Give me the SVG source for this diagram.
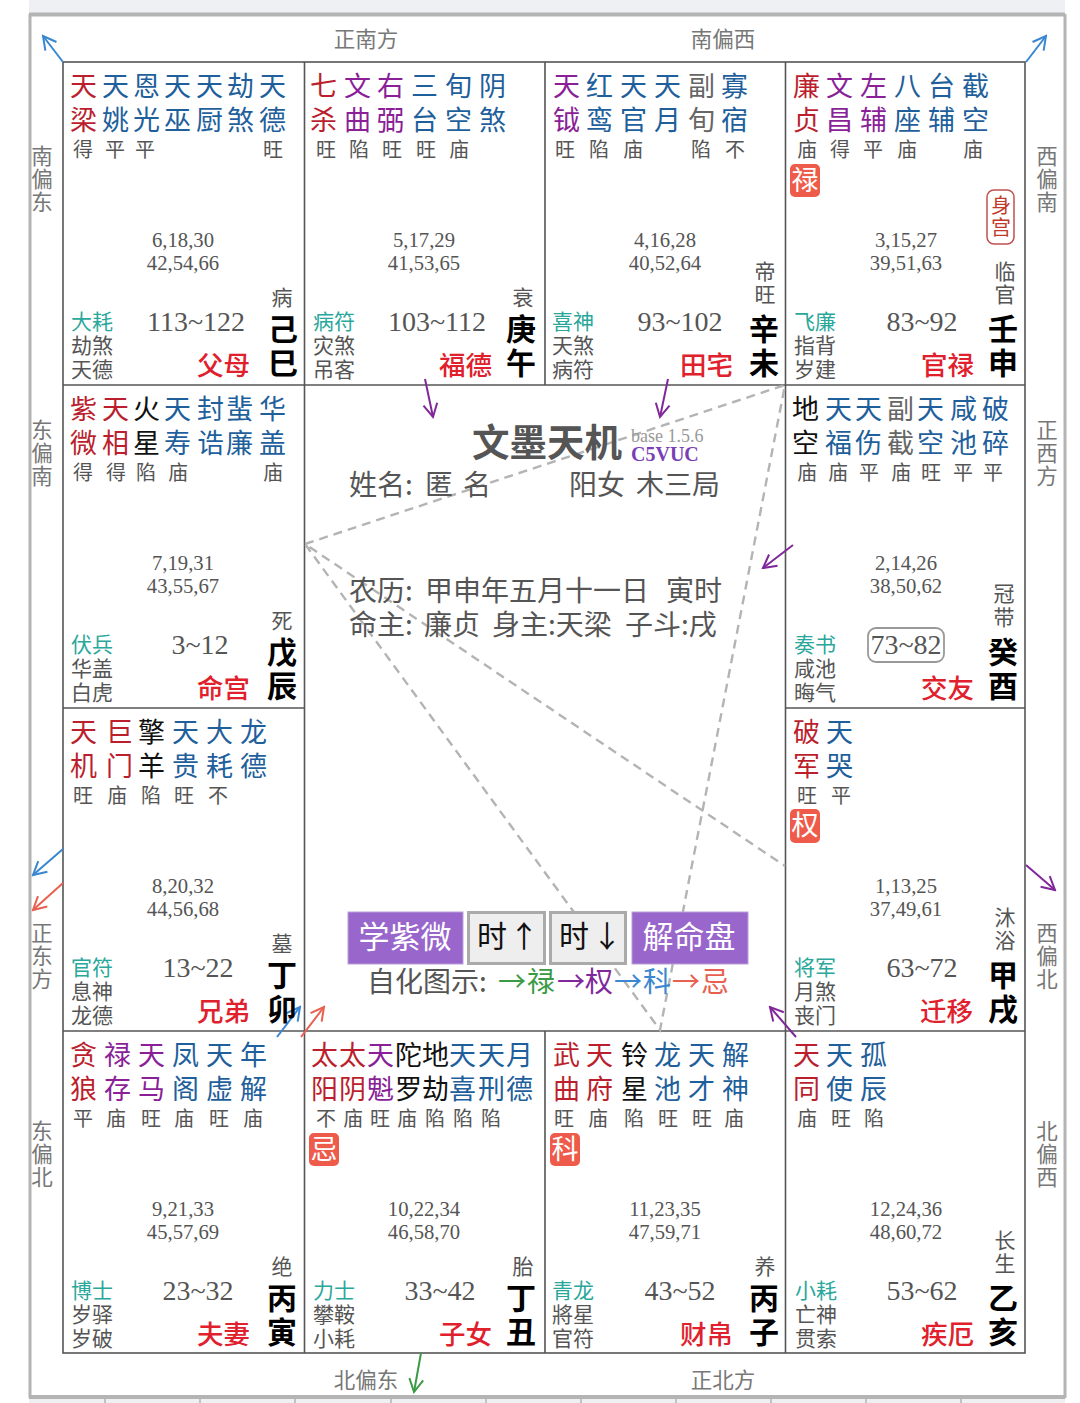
<svg xmlns="http://www.w3.org/2000/svg" width="1080" height="1403" viewBox="0 0 1080 1403">
<style>
text{font-family:"Noto Sans CJK SC","Noto Sans",sans-serif;fill:#555}
.s{font-size:27px}
.br{font-size:20px;fill:#555}
.r{fill:#bb1f2e}.p{fill:#8a1f98}.k{fill:#111}.b{fill:#1f5f9c}.g{fill:#666}
.n{font-family:"Liberation Serif",serif;font-size:20.7px;text-anchor:middle;fill:#555}
.lim{font-family:"Liberation Serif",serif;font-size:28px;text-anchor:middle;fill:#555}
.f{font-size:21px;fill:#555}
.t{fill:#2aa79b}
.pal{font-size:26.5px;fill:#e0202c;font-weight:500}
.gz{font-size:30px;font-weight:700;fill:#000;text-anchor:middle}
.st{font-size:21px;fill:#555;text-anchor:middle}
.dir{font-size:21.5px;fill:#777;text-anchor:middle}
.hua{fill:#ef5b4b}
.huat{font-size:27px;fill:#fff;text-anchor:middle}
.mid{font-size:28px;fill:#555}
.btn{fill:#9966cc;stroke:#b9a0d8;stroke-width:1}
.btnt{font-size:31px;fill:#fff;text-anchor:middle}
.gb{fill:#eee;stroke:#aaa;stroke-width:3}
.gbt{font-size:30px;fill:#111}
.grid{stroke:#555;stroke-width:1.6;fill:none}
.frame{stroke:#b4b4b4;fill:none}
.dash{stroke:#b4b4b4;stroke-width:2.4;stroke-dasharray:9 6;fill:none}
.a{fill:none;stroke-width:2}
</style>
<defs>
<marker id="mb" viewBox="-16 -10 18 20" markerWidth="18" markerHeight="20" refX="0" refY="0" orient="auto" markerUnits="userSpaceOnUse"><path d="M-13,-7 L0,0 L-13,7" fill="none" stroke="#3a86d0" stroke-width="2"/></marker>
<marker id="mp" viewBox="-16 -10 18 20" markerWidth="18" markerHeight="20" refX="0" refY="0" orient="auto" markerUnits="userSpaceOnUse"><path d="M-13,-7 L0,0 L-13,7" fill="none" stroke="#80289a" stroke-width="2"/></marker>
<marker id="mr" viewBox="-16 -10 18 20" markerWidth="18" markerHeight="20" refX="0" refY="0" orient="auto" markerUnits="userSpaceOnUse"><path d="M-13,-7 L0,0 L-13,7" fill="none" stroke="#e8604f" stroke-width="2"/></marker>
<marker id="mg" viewBox="-16 -10 18 20" markerWidth="18" markerHeight="20" refX="0" refY="0" orient="auto" markerUnits="userSpaceOnUse"><path d="M-13,-7 L0,0 L-13,7" fill="none" stroke="#3a9a45" stroke-width="2"/></marker>
</defs>
<rect width="1080" height="1403" fill="#fff"/>
<g id="page-frame">
<rect x="29" y="0" width="1036" height="13" fill="#eef0f3"/>
<rect x="29" y="1398" width="1036" height="5" fill="#eef0f3"/>
<path class="frame" stroke-width="4" d="M29,14.500H1065"/>
<path class="frame" stroke-width="3" d="M30,14V1398M1065,14V1398"/>
<path class="frame" stroke-width="4" d="M29,1397H1065"/>
<path class="frame" stroke-width="1.500" d="M105,1398V1403M200,1398V1403M295,1398V1403M391,1398V1403M486,1398V1403M581,1398V1403M676,1398V1403M771,1398V1403M866,1398V1403M961,1398V1403"/>
</g>
<g id="grid">
<rect class="grid" x="63" y="62" width="962" height="1291"/>
<path class="grid" d="M63,385H1025M63,708H304.500M785.500,708H1025M63,1031H1025M304.500,62V1353M785.500,62V1353M545,62V385M545,1031V1353"/>
</g>
<g id="connectors">
<path class="dash" d="M305,544L785,385L660,1030L305,544L785,866"/>
<g class="a">
<path stroke="#3a86d0" marker-end="url(#mb)" d="M63,62L43,36"/>
<path stroke="#3a86d0" marker-end="url(#mb)" d="M1026,62L1046,36"/>
<path stroke="#80289a" marker-end="url(#mp)" d="M425,379L433,417"/>
<path stroke="#80289a" marker-end="url(#mp)" d="M668,379L660,417"/>
<path stroke="#80289a" marker-end="url(#mp)" d="M793,545L763,568"/>
<path stroke="#80289a" marker-end="url(#mp)" d="M1026,865L1055,890"/>
<path stroke="#80289a" marker-end="url(#mp)" d="M796,1037L770,1007"/>
<path stroke="#3a86d0" marker-end="url(#mb)" d="M63,849L33,875"/>
<path stroke="#e8604f" marker-end="url(#mr)" d="M63,883L33,910"/>
<path stroke="#3a86d0" marker-end="url(#mb)" d="M277,1037L300,1007"/>
<path stroke="#e8604f" marker-end="url(#mr)" d="M301,1037L324,1007"/>
<path stroke="#3a9a45" marker-end="url(#mg)" d="M421,1353L414,1392"/>
</g>
</g>
<g id="directions">
<text class="dir" x="366" y="47">正南方</text>
<text class="dir" x="723" y="47">南偏西</text>
<text class="dir" x="366" y="1388">北偏东</text>
<text class="dir" x="723" y="1388">正北方</text>
<text class="dir" x="42"><tspan x="42" y="164">南</tspan><tspan x="42" y="187">偏</tspan><tspan x="42" y="210">东</tspan></text>
<text class="dir" x="42"><tspan x="42" y="438">东</tspan><tspan x="42" y="461">偏</tspan><tspan x="42" y="484">南</tspan></text>
<text class="dir" x="42"><tspan x="42" y="941">正</tspan><tspan x="42" y="964">东</tspan><tspan x="42" y="987">方</tspan></text>
<text class="dir" x="42"><tspan x="42" y="1139">东</tspan><tspan x="42" y="1162">偏</tspan><tspan x="42" y="1185">北</tspan></text>
<text class="dir" x="1047"><tspan x="1047" y="164">西</tspan><tspan x="1047" y="187">偏</tspan><tspan x="1047" y="210">南</tspan></text>
<text class="dir" x="1047"><tspan x="1047" y="438">正</tspan><tspan x="1047" y="461">西</tspan><tspan x="1047" y="484">方</tspan></text>
<text class="dir" x="1047"><tspan x="1047" y="941">西</tspan><tspan x="1047" y="964">偏</tspan><tspan x="1047" y="987">北</tspan></text>
<text class="dir" x="1047"><tspan x="1047" y="1139">北</tspan><tspan x="1047" y="1162">偏</tspan><tspan x="1047" y="1185">西</tspan></text>
</g>

<g id="palace-si" transform="translate(0,62)">
<text class="s" y="34"><tspan class="r" x="70">天</tspan><tspan class="b" x="102 133 164 196 227 259">天恩天天劫天</tspan></text>
<text class="s" y="68"><tspan class="r" x="70">梁</tspan><tspan class="b" x="102 133 164 196 227 259">姚光巫厨煞德</tspan></text>
<text class="br" y="95" x="73 105 135 263">得平平旺</text>
<text class="n" x="183" y="185">6,18,30</text><text class="n" x="183" y="208">42,54,66</text>
<text class="lim" x="196" y="269">113~122</text>
<text class="f t" x="71" y="267">大耗</text><text class="f" x="71" y="291">劫煞</text><text class="f" x="71" y="315">天德</text>
<text class="pal" x="197" y="313">父母</text>
<text class="st" x="282" y="243">病</text>
<text class="gz" x="283" y="278">己</text><text class="gz" x="283" y="312">巳</text>
</g>
<g id="palace-wu" transform="translate(0,62)">
<text class="s" y="34"><tspan class="r" x="310">七</tspan><tspan class="p" x="344 377">文右</tspan><tspan class="b" x="411 445 479">三旬阴</tspan></text>
<text class="s" y="68"><tspan class="r" x="310">杀</tspan><tspan class="p" x="344 377">曲弼</tspan><tspan class="b" x="411 445 479">台空煞</tspan></text>
<text class="br" y="95" x="316 349 382 416 449">旺陷旺旺庙</text>
<text class="n" x="424" y="185">5,17,29</text><text class="n" x="424" y="208">41,53,65</text>
<text class="lim" x="437" y="269">103~112</text>
<text class="f t" x="313" y="267">病符</text><text class="f" x="313" y="291">灾煞</text><text class="f" x="313" y="315">吊客</text>
<text class="pal" x="439" y="313">福德</text>
<text class="st" x="523" y="243">衰</text>
<text class="gz" x="521" y="278">庚</text><text class="gz" x="521" y="312">午</text>
</g>
<g id="palace-wei" transform="translate(0,62)">
<text class="s" y="34"><tspan class="p" x="553">天</tspan><tspan class="b" x="586 620 654">红天天</tspan><tspan class="g" x="688">副</tspan><tspan class="b" x="721">寡</tspan></text>
<text class="s" y="68"><tspan class="p" x="553">钺</tspan><tspan class="b" x="586 620 654">鸾官月</tspan><tspan class="g" x="688">旬</tspan><tspan class="b" x="721">宿</tspan></text>
<text class="br" y="95" x="555 589 623 691 725">旺陷庙陷不</text>
<text class="n" x="665" y="185">4,16,28</text><text class="n" x="665" y="208">40,52,64</text>
<text class="lim" x="680" y="269">93~102</text>
<text class="f t" x="552" y="267">喜神</text><text class="f" x="552" y="291">天煞</text><text class="f" x="552" y="315">病符</text>
<text class="pal" x="680" y="313">田宅</text>
<text class="st" x="765" y="217">帝</text><text class="st" x="765" y="240">旺</text>
<text class="gz" x="764" y="278">辛</text><text class="gz" x="764" y="312">未</text>
</g>
<g id="palace-shen" transform="translate(0,62)">
<text class="s" y="34"><tspan class="r" x="793">廉</tspan><tspan class="p" x="826 860">文左</tspan><tspan class="b" x="894 928 962">八台截</tspan></text>
<text class="s" y="68"><tspan class="r" x="793">贞</tspan><tspan class="p" x="826 860">昌辅</tspan><tspan class="b" x="894 928 962">座辅空</tspan></text>
<text class="br" y="95" x="797 830 863 897 963">庙得平庙庙</text>
<rect class="hua" x="790" y="102" width="30" height="33" rx="5"/><text class="huat" x="805" y="128">禄</text>
<rect x="987" y="128" width="27" height="54" rx="7" fill="#fff" stroke="#c0504d" stroke-width="1.500"/>
<text x="1001" y="151" font-size="20" text-anchor="middle" style="fill:#c0392b">身</text><text x="1001" y="173" font-size="20" text-anchor="middle" style="fill:#c0392b">宫</text>
<text class="n" x="906" y="185">3,15,27</text><text class="n" x="906" y="208">39,51,63</text>
<text class="lim" x="922" y="269">83~92</text>
<text class="f t" x="794" y="267">飞廉</text><text class="f" x="794" y="291">指背</text><text class="f" x="794" y="315">岁建</text>
<text class="pal" x="921" y="313">官禄</text>
<text class="st" x="1005" y="217">临</text><text class="st" x="1005" y="240">官</text>
<text class="gz" x="1003" y="278">壬</text><text class="gz" x="1003" y="312">申</text>
</g>

<g id="palace-chen" transform="translate(0,385)">
<text class="s" y="34"><tspan class="r" x="70 102">紫天</tspan><tspan class="k" x="133">火</tspan><tspan class="b" x="164 197 226 259">天封蜚华</tspan></text>
<text class="s" y="68"><tspan class="r" x="70 102">微相</tspan><tspan class="k" x="133">星</tspan><tspan class="b" x="164 197 226 259">寿诰廉盖</tspan></text>
<text class="br" y="95" x="73 106 136 168 263">得得陷庙庙</text>
<text class="n" x="183" y="185">7,19,31</text><text class="n" x="183" y="208">43,55,67</text>
<text class="lim" x="200" y="269">3~12</text>
<text class="f t" x="71" y="267">伏兵</text><text class="f" x="71" y="291">华盖</text><text class="f" x="71" y="315">白虎</text>
<text class="pal" x="197" y="313">命宫</text>
<text class="st" x="282" y="243">死</text>
<text class="gz" x="282" y="278">戊</text><text class="gz" x="282" y="312">辰</text>
</g>
<g id="palace-you" transform="translate(0,385)">
<text class="s" y="34"><tspan class="k" x="792">地</tspan><tspan class="b" x="825 855">天天</tspan><tspan class="g" x="887">副</tspan><tspan class="b" x="917 950 982">天咸破</tspan></text>
<text class="s" y="68"><tspan class="k" x="792">空</tspan><tspan class="b" x="825 855">福伤</tspan><tspan class="g" x="887">截</tspan><tspan class="b" x="917 950 982">空池碎</tspan></text>
<text class="br" y="95" x="797 828 859 891 921 953 983">庙庙平庙旺平平</text>
<text class="n" x="906" y="185">2,14,26</text><text class="n" x="906" y="208">38,50,62</text>
<rect x="868" y="243" width="76" height="34" rx="8" fill="none" stroke="#999" stroke-width="1.800"/>
<text class="lim" x="906" y="269">73~82</text>
<text class="f t" x="794" y="267">奏书</text><text class="f" x="794" y="291">咸池</text><text class="f" x="794" y="315">晦气</text>
<text class="pal" x="921" y="313">交友</text>
<text class="st" x="1004" y="216">冠</text><text class="st" x="1004" y="240">带</text>
<text class="gz" x="1003" y="278">癸</text><text class="gz" x="1003" y="312">酉</text>
</g>

<g id="palace-mao" transform="translate(0,708)">
<text class="s" y="34"><tspan class="r" x="70 106">天巨</tspan><tspan class="k" x="138">擎</tspan><tspan class="b" x="172 206 240">天大龙</tspan></text>
<text class="s" y="68"><tspan class="r" x="70 106">机门</tspan><tspan class="k" x="138">羊</tspan><tspan class="b" x="172 206 240">贵耗德</tspan></text>
<text class="br" y="95" x="73 107 141 174 208">旺庙陷旺不</text>
<text class="n" x="183" y="185">8,20,32</text><text class="n" x="183" y="208">44,56,68</text>
<text class="lim" x="198" y="269">13~22</text>
<text class="f t" x="71" y="267">官符</text><text class="f" x="71" y="291">息神</text><text class="f" x="71" y="315">龙德</text>
<text class="pal" x="197" y="313">兄弟</text>
<text class="st" x="282" y="243">墓</text>
<text class="gz" x="282" y="278">丁</text><text class="gz" x="282" y="312">卯</text>
</g>
<g id="palace-xu" transform="translate(0,708)">
<text class="s" y="34"><tspan class="r" x="793">破</tspan><tspan class="b" x="826">天</tspan></text>
<text class="s" y="68"><tspan class="r" x="793">军</tspan><tspan class="b" x="826">哭</tspan></text>
<text class="br" y="95" x="797 831">旺平</text>
<rect class="hua" x="790" y="101" width="30" height="34" rx="5"/><text class="huat" x="805" y="127">权</text>
<text class="n" x="906" y="185">1,13,25</text><text class="n" x="906" y="208">37,49,61</text>
<text class="lim" x="922" y="269">63~72</text>
<text class="f t" x="794" y="267">将军</text><text class="f" x="794" y="291">月煞</text><text class="f" x="794" y="315">丧门</text>
<text class="pal" x="920" y="313">迁移</text>
<text class="st" x="1005" y="217">沐</text><text class="st" x="1005" y="240">浴</text>
<text class="gz" x="1003" y="278">甲</text><text class="gz" x="1003" y="312">戌</text>
</g>

<g id="palace-yin" transform="translate(0,1031)">
<text class="s" y="34"><tspan class="r" x="70">贪</tspan><tspan class="p" x="104 138">禄天</tspan><tspan class="b" x="172 206 240">凤天年</tspan></text>
<text class="s" y="68"><tspan class="r" x="70">狼</tspan><tspan class="p" x="104 138">存马</tspan><tspan class="b" x="172 206 240">阁虚解</tspan></text>
<text class="br" y="95" x="73 106 141 174 209 243">平庙旺庙旺庙</text>
<text class="n" x="183" y="185">9,21,33</text><text class="n" x="183" y="208">45,57,69</text>
<text class="lim" x="198" y="269">23~32</text>
<text class="f t" x="71" y="267">博士</text><text class="f" x="71" y="291">岁驿</text><text class="f" x="71" y="315">岁破</text>
<text class="pal" x="197" y="313">夫妻</text>
<text class="st" x="282" y="243">绝</text>
<text class="gz" x="282" y="278">丙</text><text class="gz" x="282" y="312">寅</text>
</g>
<g id="palace-chou" transform="translate(0,1031)">
<text class="s" y="34"><tspan class="r" x="311 339">太太</tspan><tspan class="p" x="367">天</tspan><tspan class="k" x="395 422">陀地</tspan><tspan class="b" x="449 478 506">天天月</tspan></text>
<text class="s" y="68"><tspan class="r" x="311 339">阳阴</tspan><tspan class="p" x="367">魁</tspan><tspan class="k" x="395 422">罗劫</tspan><tspan class="b" x="449 478 506">喜刑德</tspan></text>
<text class="br" y="95" x="316 343 370 397 425 453 481">不庙旺庙陷陷陷</text>
<rect class="hua" x="309" y="102" width="30" height="33" rx="5"/><text class="huat" x="324" y="128">忌</text>
<text class="n" x="424" y="185">10,22,34</text><text class="n" x="424" y="208">46,58,70</text>
<text class="lim" x="440" y="269">33~42</text>
<text class="f t" x="313" y="267">力士</text><text class="f" x="313" y="291">攀鞍</text><text class="f" x="313" y="315">小耗</text>
<text class="pal" x="439" y="313">子女</text>
<text class="st" x="523" y="243">胎</text>
<text class="gz" x="521" y="278">丁</text><text class="gz" x="521" y="312">丑</text>
</g>
<g id="palace-zi" transform="translate(0,1031)">
<text class="s" y="34"><tspan class="r" x="553 586">武天</tspan><tspan class="k" x="621">铃</tspan><tspan class="b" x="654 688 722">龙天解</tspan></text>
<text class="s" y="68"><tspan class="r" x="553 586">曲府</tspan><tspan class="k" x="621">星</tspan><tspan class="b" x="654 688 722">池才神</tspan></text>
<text class="br" y="95" x="554 588 624 658 692 724">旺庙陷旺旺庙</text>
<rect class="hua" x="550" y="102" width="30" height="33" rx="5"/><text class="huat" x="565" y="128">科</text>
<text class="n" x="665" y="185">11,23,35</text><text class="n" x="665" y="208">47,59,71</text>
<text class="lim" x="680" y="269">43~52</text>
<text class="f t" x="552" y="267">青龙</text><text class="f" x="552" y="291">將星</text><text class="f" x="552" y="315">官符</text>
<text class="pal" x="680" y="313">财帛</text>
<text class="st" x="765" y="243">养</text>
<text class="gz" x="764" y="278">丙</text><text class="gz" x="764" y="312">子</text>
</g>
<g id="palace-hai" transform="translate(0,1031)">
<text class="s" y="34"><tspan class="r" x="793">天</tspan><tspan class="b" x="826 860">天孤</tspan></text>
<text class="s" y="68"><tspan class="r" x="793">同</tspan><tspan class="b" x="826 860">使辰</tspan></text>
<text class="br" y="95" x="797 831 864">庙旺陷</text>
<text class="n" x="906" y="185">12,24,36</text><text class="n" x="906" y="208">48,60,72</text>
<text class="lim" x="922" y="269">53~62</text>
<text class="f t" x="795" y="267">小耗</text><text class="f" x="795" y="291">亡神</text><text class="f" x="795" y="315">贯索</text>
<text class="pal" x="921" y="313">疾厄</text>
<text class="st" x="1005" y="217">长</text><text class="st" x="1005" y="240">生</text>
<text class="gz" x="1003" y="278">乙</text><text class="gz" x="1003" y="312">亥</text>
</g>

<g id="center">
<text x="472" y="456" font-size="37.500" font-weight="700">文墨天机</text>
<text x="631" y="442" style="font-family:'Liberation Serif',serif;font-size:18px;fill:#999">base 1.5.6</text>
<text x="631" y="461" style="font-family:'Liberation Serif',serif;font-size:20px;font-weight:700;fill:#7b3fb5">C5VUC</text>
<text class="mid" x="349" y="495">姓名:</text><text class="mid" x="425" y="495">匿</text><text class="mid" x="463" y="495">名</text>
<text class="mid" x="569" y="495">阳女</text><text class="mid" x="636" y="495">木三局</text>
<text class="mid" x="349" y="601">农历:</text><text class="mid" x="425" y="601">甲申年五月十一日</text><text class="mid" x="666" y="601">寅时</text>
<text class="mid" x="349" y="635">命主:</text><text class="mid" x="424" y="635">廉贞</text><text class="mid" x="492" y="635">身主:天梁</text><text class="mid" x="625" y="635">子斗:戌</text>
</g>
<g id="btn-learn"><rect class="btn" x="348" y="912" width="115" height="52"/><text class="btnt" x="405" y="948">学紫微</text></g>
<g id="btn-up"><rect class="gb" x="468.500" y="912.500" width="76" height="51"/><text class="gbt" x="477" y="947">时</text><text class="gbt" x="509" y="947">↑</text></g>
<g id="btn-down"><rect class="gb" x="550.500" y="912.500" width="75" height="51"/><text class="gbt" x="559" y="947">时</text><text class="gbt" x="592" y="947">↓</text></g>
<g id="btn-solve"><rect class="btn" x="632" y="912" width="116" height="52"/><text class="btnt" x="689" y="948">解命盘</text></g>
<g id="legend">
<text class="mid" x="367" y="992">自化图示:</text>
<text class="mid" x="498" y="992" style="fill:#3a9a45">→</text><text class="mid" x="527" y="992" style="fill:#3a9a45">禄</text>
<text class="mid" x="557" y="992" style="fill:#80289a">→</text><text class="mid" x="585" y="992" style="fill:#80289a">权</text>
<text class="mid" x="614" y="992" style="fill:#3a86d0">→</text><text class="mid" x="643" y="992" style="fill:#3a86d0">科</text>
<text class="mid" x="672" y="992" style="fill:#e8604f">→</text><text class="mid" x="701" y="992" style="fill:#e8604f">忌</text>
</g>
</svg>
